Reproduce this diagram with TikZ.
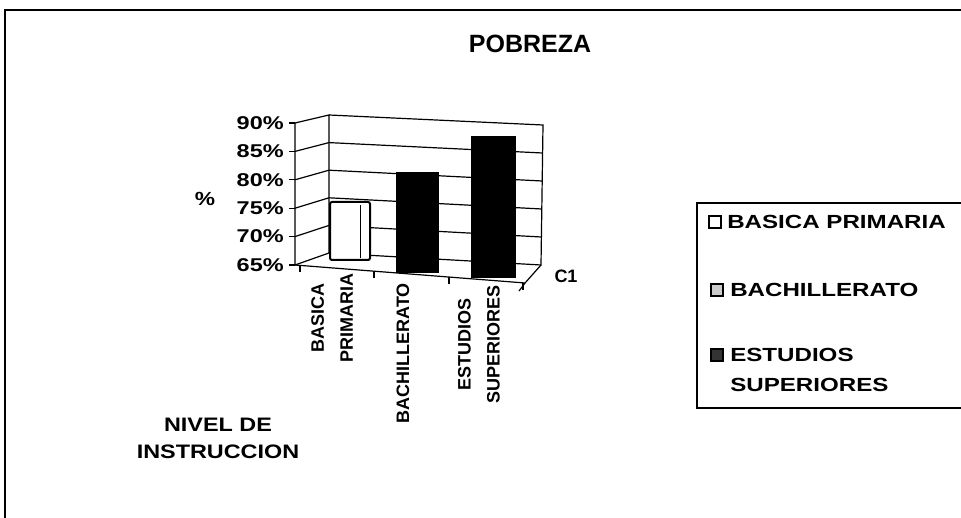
\documentclass[tikz,border=0pt]{standalone}
\usepackage{fontspec}
\setmainfont{Liberation Sans}
\begin{document}
\begin{tikzpicture}[x=1pt, y=-1pt,
  frame/.style={line width = 1.5pt},
  grid/.style={line width = 1.2pt},
  bar/.style={line width = 2pt, draw=black},
  ticklab/.style={font=\fontsize{18.5}{22}\selectfont\bfseries, xscale=1.27, anchor=east, inner sep=0pt},
  catlab/.style={font=\fontsize{18}{29}\selectfont\bfseries, rotate=90, anchor=east, align=center, inner sep=0pt},
  leglab/.style={font=\fontsize{19}{30}\selectfont\bfseries, xscale=1.27, anchor=west, align=left, inner sep=0pt},
  legkey/.style={line width = 2.2pt}]
  \useasboundingbox (0,0) rectangle (961,518);
  \draw[frame] (5,518) -- (5,10) -- (961,10);
  \node[font=\fontsize{25}{30}\selectfont\bfseries] (title) at (530,44) {POBREZA};
  % walls and floor
  \draw[grid] (295,123) -- (295,265) -- (329,253) -- (329,115) -- cycle;
  \draw[grid] (329,115) -- (543,125) -- (541,265) -- (329,253);
  \draw[grid] (295,265) -- (525,283) -- (541,265);
  \foreach \v in {70,75,80,85} {
    \pgfmathsetmacro{\t}{(\v-65)/25}
    \draw[grid] (295,265-142*\t) -- (329,253-138*\t) -- (541+2*\t,265-140*\t);
  }
  \foreach \v in {65,70,75,80,85,90} {
    \pgfmathsetmacro{\t}{(\v-65)/25}
    \draw[grid] (289,265-142*\t) -- (295,265-142*\t);
    \node[ticklab] (t\v) at (284,265-142*\t) {\v\%};
  }
  \foreach \x/\y in {300/265.3, 374/271.1, 449/277.0, 523/282.8}
    \draw[grid] (\x,\y) -- (\x,\y+7);
  \draw[grid] (525,283) -- (519,291);
  % bars
  \draw[bar, fill=white, rounded corners=2pt] (330,202) rectangle (370,260);
  \draw[line width = 1pt] (360,205) -- (360,258);
  \draw[bar, fill=black] (397,173) rectangle (438,272);
  \draw[bar, fill=black] (472,137) rectangle (515,277);
  \node[font=\fontsize{19}{22}\selectfont\bfseries, xscale=1.2] (pct) at (205,199) {\%};
  \node[font=\fontsize{18}{22}\selectfont\bfseries] (c1) at (566,276) {C1};
  \node[catlab] (cat1) at (332,273) {BASICA\\PRIMARIA};
  \node[catlab] (cat2) at (403,283) {BACHILLERATO};
  \node[catlab] (cat3) at (479,285) {ESTUDIOS\\SUPERIORES};
  \node[font=\fontsize{19.5}{27}\selectfont\bfseries, align=center, xscale=1.2] (nivel) at (218,438) {NIVEL DE\\INSTRUCCION};
  % legend
  \draw[frame] (961,203) -- (697,203) -- (697,408) -- (961,408);
  \draw[legkey, fill=white] (709,216) rectangle (721,228);
  \node[leglab] (leg1) at (727,222) {BASICA PRIMARIA};
  \draw[legkey, fill=gray!40] (711,284) rectangle (723,296);
  \node[leglab] (leg2) at (730,290) {BACHILLERATO};
  \draw[legkey, fill=black!80] (711,349) rectangle (723,361);
  \node[leglab] (leg3) at (730,370) {ESTUDIOS\\SUPERIORES};
\end{tikzpicture}
\end{document}
